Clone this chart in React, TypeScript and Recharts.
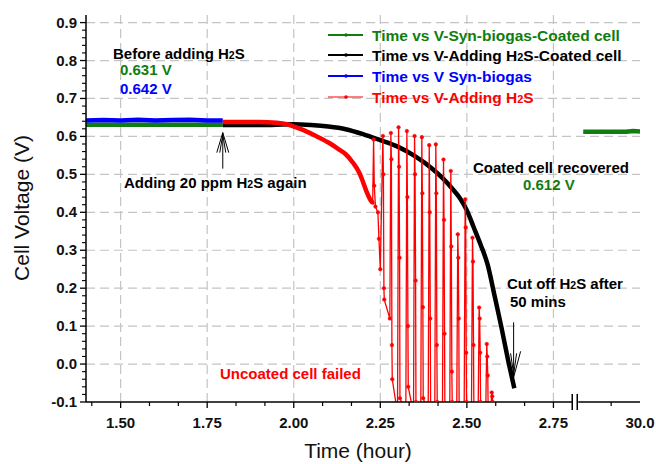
import React from "react";
import { LineChart, Line, XAxis, YAxis, ReferenceLine, ReferenceDot } from "recharts";

const GREEN = "#0f7d0f";
const BLUE = "#0000ff";
const RED = "#ff0000";
const BLACK = "#000000";
const FONT = "'Liberation Sans', Arial, sans-serif";

// axis ticks; the last x tick sits after the axis break and reads 30.0 h
const xMajor = [1.5, 1.75, 2.0, 2.25, 2.5, 2.75, 3.0];
const xMajorLabels = ["1.50", "1.75", "2.00", "2.25", "2.50", "2.75", "30.0"];
const xMinor = [1.4167, 1.5833, 1.6667, 1.8333, 1.9167, 2.0833, 2.1667, 2.3333, 2.4167, 2.5833, 2.6667, 2.9167];
const yMajor = [-0.1, 0.0, 0.1, 0.2, 0.3, 0.4, 0.5, 0.6, 0.7, 0.8, 0.9];
const yMajorLabels = ["-0.1", "0.0", "0.1", "0.2", "0.3", "0.4", "0.5", "0.6", "0.7", "0.8", "0.9"];
const xBreak = 2.813;

// syn-biogas, uncoated cell
const blueTime = [1.4, 1.45, 1.5, 1.55, 1.6, 1.65, 1.7, 1.75, 1.795];
const blueV = [0.642, 0.643, 0.642, 0.644, 0.642, 0.643, 0.644, 0.642, 0.642];

// syn-biogas, coated cell (before H2S and after recovery past the break)
const greenTime = [1.4, 1.5, 1.6, 1.7, 1.795];
const greenV = [0.631, 0.631, 0.631, 0.631, 0.631];
const greenLateTime = [2.836, 2.88, 2.92, 2.96, 2.98, 3.0];
const greenLateV = [0.612, 0.612, 0.612, 0.612, 0.614, 0.613];

// adding H2S, coated cell
const blackTime = [1.795, 1.9, 2.0, 2.05, 2.1, 2.15, 2.2, 2.25, 2.3, 2.35, 2.4, 2.43, 2.46, 2.48, 2.5, 2.52, 2.54, 2.56, 2.58, 2.6, 2.62, 2.637];
const blackV = [0.63, 0.63, 0.632, 0.63, 0.626, 0.619, 0.606, 0.59, 0.573, 0.548, 0.515, 0.49, 0.46, 0.437, 0.405, 0.36, 0.314, 0.262, 0.18, 0.096, 0.006, -0.064];

// adding H2S, uncoated cell: gradual decay
const redTime = [1.795, 1.85, 1.9, 1.95, 1.98, 2.0, 2.03, 2.06, 2.1, 2.13, 2.15, 2.17, 2.19, 2.2, 2.21, 2.22, 2.228];
const redV = [0.638, 0.638, 0.638, 0.636, 0.632, 0.626, 0.616, 0.603, 0.584, 0.566, 0.553, 0.532, 0.503, 0.48, 0.455, 0.435, 0.425];

// adding H2S, uncoated cell: unstable part
const redTailTime = [2.228, 2.2306, 2.2326, 2.236, 2.243, 2.246, 2.25];
const redTailV = [0.425, 0.592, 0.47, 0.415, 0.4, 0.33, 0.25];
const spikeTime = [2.2574, 2.2805, 2.3027, 2.3267, 2.3489, 2.3699, 2.3913, 2.4103, 2.4325, 2.4536, 2.4737, 2.4951, 2.5162, 2.5355, 2.5574, 2.5718];
const spikeTop = [0.601, 0.609, 0.624, 0.614, 0.601, 0.598, 0.577, 0.579, 0.539, 0.509, 0.342, 0.434, 0.333, 0.149, 0.053, -0.075];
const spikeMid = [0.5, 0.54, 0.52, 0.44, 0.5, 0.45, 0.4, 0.45, 0.38, 0.31, 0.28, 0.36, 0.27, 0.12, 0.02, -0.085];
const spikeLow = [0.2, 0.05, 0.28, 0.1, 0.22, 0.15, 0.12, 0.05, 0.08, -0.02, 0.12, 0.03, 0.05, 0.03, -0.03, -0.1];
const spikeBottom = [0.17, -0.04, -0.09, -0.06, -0.1, -0.09, -0.12, -0.1, -0.12, -0.1, -0.12, -0.1, -0.12, -0.1, -0.12, -0.12];
// level each recovery starts from, just before the next spike
const spikeRise = [0.12, -0.13, -0.13, -0.13, -0.13, -0.13, -0.13, -0.13, -0.13, -0.13, -0.13, -0.13, -0.13, -0.13, -0.13, -0.13];

const toPoints = (t: number[], v: number[]) => t.map((x, i) => ({ t: x, v: v[i] }));

const redSpikes = [
  ...toPoints(redTailTime, redTailV),
  ...spikeTime.flatMap((t, i) => [
    ...(i > 0 ? [{ t: t - 0.003, v: spikeRise[i - 1] }] : []),
    { t, v: spikeTop[i] },
    { t: t + 0.0015, v: spikeMid[i] },
    { t: t + 0.003, v: spikeLow[i] },
    { t: t + 0.004, v: spikeBottom[i] },
  ]),
];

const yMinor = Array.from({ length: 51 }, (_, k) => +(-0.1 + k * 0.02).toFixed(2)).filter(
  (v) => !yMajor.some((m) => Math.abs(m - v) < 1e-6)
);
const xTicks = [...xMajor, ...xMinor].sort((a, b) => a - b);
const yTicks = [...yMajor, ...yMinor].sort((a, b) => a - b);

const majorIndex = (arr: number[], v: number) => arr.findIndex((m) => Math.abs(m - v) < 1e-6);

function XTick({ x, y, payload }: any) {
  const i = majorIndex(xMajor, payload.value);
  if (i < 0) return <line x1={x} x2={x} y1={y} y2={y + 4} stroke={BLACK} strokeWidth={1.2} />;
  return (
    <g>
      {i < xMajor.length - 1 && <line x1={x} x2={x} y1={y} y2={y + 6} stroke={BLACK} strokeWidth={1.3} />}
      <text x={x} y={y + 26} textAnchor="middle" fontFamily={FONT} fontWeight="bold" fontSize={15} fill="#111">
        {xMajorLabels[i]}
      </text>
    </g>
  );
}

function YTick({ x, y, payload }: any) {
  const i = majorIndex(yMajor, payload.value);
  if (i < 0) return <line x1={x - 4} x2={x} y1={y} y2={y} stroke={BLACK} strokeWidth={1.1} />;
  return (
    <g>
      <line x1={x - 6} x2={x} y1={y} y2={y} stroke={BLACK} strokeWidth={1.3} />
      <text x={x - 9} y={y + 5} textAnchor="end" fontFamily={FONT} fontWeight="bold" fontSize={15} fill="#111">
        {yMajorLabels[i]}
      </text>
    </g>
  );
}

function RightTick({ x, y, payload }: any) {
  const len = majorIndex(yMajor, payload.value) < 0 ? 3 : 5;
  return <line x1={x - len} x2={x} y1={y} y2={y} stroke={BLACK} strokeWidth={1.1} />;
}

function BreakMark({ cx, cy }: any) {
  return (
    <g>
      <rect x={cx - 3} y={cy - 3} width={6} height={6} fill="#fff" />
      <line x1={cx - 3} x2={cx - 3} y1={cy - 8} y2={cy + 8} stroke={BLACK} strokeWidth={1.5} />
      <line x1={cx + 2} x2={cx + 2} y1={cy - 8} y2={cy + 8} stroke={BLACK} strokeWidth={1.5} />
    </g>
  );
}

function UpArrow({ cx, cy }: any) {
  return (
    <g stroke={BLACK} strokeWidth={1} fill="none">
      <line x1={cx} x2={cx} y1={cy} y2={cy + 36} />
      <path d={`M${cx - 6},${cy + 20} L${cx},${cy} L${cx + 6},${cy + 20}`} />
      <path d={`M${cx - 3},${cy + 20} L${cx},${cy + 2} L${cx + 3},${cy + 20}`} />
    </g>
  );
}

function DownArrow({ cx, cy }: any) {
  return (
    <g stroke={BLACK} strokeWidth={1} fill="none">
      <line x1={cx} x2={cx} y1={cy - 55} y2={cy} />
      <path d={`M${cx - 7},${cy - 26} L${cx},${cy} L${cx + 7},${cy - 26}`} />
      <path d={`M${cx - 3},${cy - 24} L${cx},${cy - 3} L${cx + 3},${cy - 24}`} />
    </g>
  );
}

// writes "H2S" with a small 2
function chem(s: string) {
  const parts = s.split("H2S");
  return parts.flatMap((p, i) =>
    i < parts.length - 1
      ? [p, "H", <tspan key={i} fontSize="0.7em">2</tspan>, "S"]
      : [p]
  );
}

const legendRows = [
  { label: "Time vs V-Syn-biogas-Coated cell", color: GREEN, y: 35, width: 2.2 },
  { label: "Time vs V-Adding H2S-Coated cell", color: BLACK, y: 55, width: 2.2 },
  { label: "Time vs V Syn-biogas", color: BLUE, y: 76, width: 2.2 },
  { label: "Time vs V-Adding H2S", color: RED, y: 97, width: 1.2 },
];

const notes = [
  { text: "Before adding H2S", x: 113, y: 59, color: BLACK },
  { text: "0.631 V", x: 120, y: 75, color: GREEN },
  { text: "0.642 V", x: 120, y: 94, color: BLUE },
  { text: "Adding 20 ppm H2S again", x: 124, y: 188, color: BLACK },
  { text: "Coated cell recovered", x: 473, y: 173, color: BLACK },
  { text: "0.612 V", x: 523, y: 190, color: GREEN },
  { text: "Cut off H2S after", x: 507, y: 289, color: BLACK },
  { text: "50 mins", x: 510, y: 307, color: BLACK },
  { text: "Uncoated cell failed", x: 220, y: 379, color: RED },
];

export default function App() {
  const common = { xAxisId: 0, yAxisId: "v", dataKey: "v", isAnimationActive: false };
  return (
    <div style={{ position: "absolute", left: 0, top: 0, width: 656, height: 464, background: "#fff" }}>
      <LineChart width={656} height={464} margin={{ top: 15, right: 16, bottom: 0, left: 0 }}>
        <XAxis
          dataKey="t"
          type="number"
          domain={[1.4, 3.0]}
          allowDataOverflow
          ticks={xTicks}
          interval={0}
          height={62}
          tickSize={0}
          tickMargin={0}
          tickLine={false}
          tick={(p: any) => <XTick {...p} />}
          axisLine={{ stroke: BLACK, strokeWidth: 1.5 }}
        />
        <XAxis
          xAxisId="top"
          orientation="top"
          type="number"
          domain={[1.4, 3.0]}
          height={0}
          tick={false}
          tickLine={false}
          axisLine={{ stroke: BLACK, strokeWidth: 1.5 }}
        />
        <YAxis
          yAxisId="v"
          type="number"
          domain={[-0.1, 0.92]}
          allowDataOverflow
          ticks={yTicks}
          interval={0}
          width={86}
          tickSize={0}
          tickMargin={0}
          tickLine={false}
          tick={(p: any) => <YTick {...p} />}
          axisLine={{ stroke: BLACK, strokeWidth: 1.5 }}
        />
        <YAxis
          yAxisId="r"
          orientation="right"
          type="number"
          domain={[-0.1, 0.92]}
          allowDataOverflow
          ticks={yTicks}
          interval={0}
          width={0}
          tickSize={0}
          tickMargin={0}
          tickLine={false}
          tick={(p: any) => <RightTick {...p} />}
          axisLine={{ stroke: BLACK, strokeWidth: 1.5 }}
        />

        {yMajor.slice(1).map((v) => (
          <ReferenceLine key={`h${v}`} yAxisId="v" y={v} stroke="#c4c4c4" strokeWidth={1.2} strokeDasharray="9 5" />
        ))}
        {xMajor.slice(0, -1).map((v) => (
          <ReferenceLine key={`v${v}`} yAxisId="v" x={v} stroke="#c4c4c4" strokeWidth={1.2} strokeDasharray="9 5" />
        ))}

        <Line {...common} type="linear" data={toPoints(greenTime, greenV)} stroke={GREEN} strokeWidth={4.5} dot={false} />
        <Line {...common} type="linear" data={toPoints(greenLateTime, greenLateV)} stroke={GREEN} strokeWidth={4.5} dot={false} />
        <Line {...common} type="linear" data={toPoints(blueTime, blueV)} stroke={BLUE} strokeWidth={4.5} dot={false} />
        <Line {...common} type="monotone" data={toPoints(blackTime, blackV)} stroke={BLACK} strokeWidth={4.5} dot={false} />
        <Line {...common} type="monotone" data={toPoints(redTime, redV)} stroke={RED} strokeWidth={4.5} dot={false} />
        <Line
          {...common}
          type="linear"
          data={redSpikes}
          stroke={RED}
          strokeWidth={1.3}
          dot={{ r: 1.8, fill: RED, stroke: RED, strokeWidth: 0.5 }}
        />

        <ReferenceDot yAxisId="v" x={xBreak} y={-0.1} shape={(p: any) => <BreakMark {...p} />} />
        <ReferenceDot yAxisId="v" x={1.795} y={0.61} shape={(p: any) => <UpArrow {...p} />} />
        <ReferenceDot yAxisId="v" x={2.635} y={-0.035} shape={(p: any) => <DownArrow {...p} />} />
      </LineChart>

      <svg width={656} height={464} style={{ position: "absolute", left: 0, top: 0, pointerEvents: "none" }}>
        <text x={358} y={458} textAnchor="middle" fontFamily={FONT} fontSize={21} fill="#111">
          Time (hour)
        </text>
        <text transform="translate(29,208) rotate(-90)" textAnchor="middle" fontFamily={FONT} fontSize={21} fill="#111">
          Cell Voltage (V)
        </text>

        {legendRows.map((r) => (
          <g key={r.label}>
            <line x1={328} x2={363} y1={r.y} y2={r.y} stroke={r.color} strokeWidth={r.width} />
            <circle cx={346} cy={r.y} r={1.8} fill={r.color} />
            <text x={372} y={r.y + 5.5} fontFamily={FONT} fontWeight="bold" fontSize={15.5} fill={r.color}>
              {chem(r.label)}
            </text>
          </g>
        ))}

        {notes.map((n) => (
          <text key={n.text} x={n.x} y={n.y} fontFamily={FONT} fontWeight="bold" fontSize={15} fill={n.color}>
            {chem(n.text)}
          </text>
        ))}
      </svg>
    </div>
  );
}
